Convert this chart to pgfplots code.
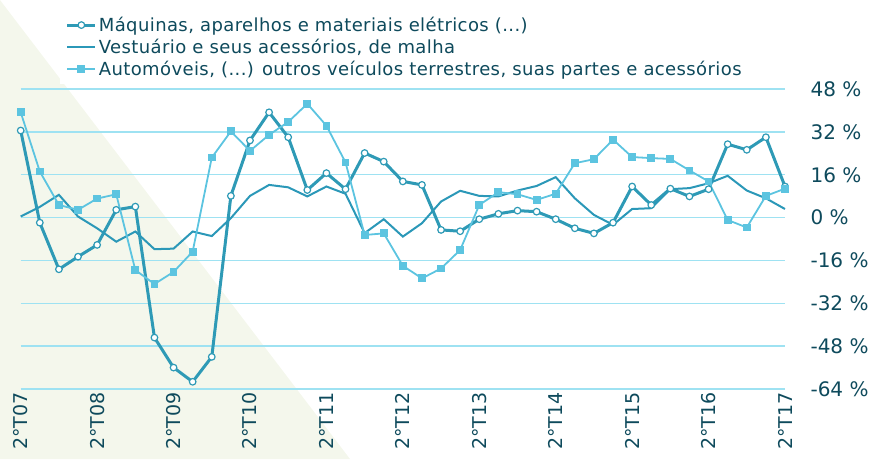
\documentclass[border=0pt]{standalone}
\usepackage{pgfplots}
\pgfplotsset{compat=1.18}
\usepackage{fontspec}
\setmainfont{DejaVu Sans}
\newfontfamily\legfont[LetterSpace=2.2]{DejaVu Sans}
\definecolor{txt}{HTML}{0E4A5C}
\definecolor{cA}{HTML}{2E9AB6}
\definecolor{cB}{HTML}{2B98B8}
\definecolor{cC}{HTML}{5CC4E0}
\definecolor{gridc}{HTML}{9EE2F2}
\definecolor{bgtri}{HTML}{F4F7EC}
\pgfplotsset{legend image code/.code={\draw[mark repeat=2,mark phase=2,#1] plot coordinates {(0pt,0pt) (14pt,0pt) (28pt,0pt)};}}

\pgfplotstableread{
i A B C
0 32.5 0.4 39.3
1 -1.9 4.0 17.2
2 -19.3 8.5 4.7
3 -14.6 0.4 2.9
4 -10.2 -4.0 7.1
5 2.9 -9.0 8.7
6 4.1 -5.2 -19.6
7 -44.8 -11.8 -24.8
8 -56.0 -11.6 -20.3
9 -61.3 -5.2 -12.7
10 -52.0 -6.9 22.4
11 8.1 -0.2 32.2
12 28.8 8.1 24.9
13 39.3 12.2 30.9
14 30.0 11.3 35.7
15 10.3 7.9 42.5
16 16.6 11.6 34.3
17 10.6 8.9 20.6
18 24.1 -5.8 -6.5
19 20.9 -0.6 -5.9
20 13.5 -7.1 -18.0
21 12.2 -2.1 -22.7
22 -4.6 6.0 -19.0
23 -5.1 10.0 -12.1
24 -0.6 8.1 4.7
25 1.4 7.9 9.5
26 2.6 10.1 8.7
27 2.2 11.8 6.6
28 -0.6 15.1 8.9
29 -4.0 7.2 20.3
30 -5.9 1.0 21.8
31 -1.9 -2.7 29.1
32 11.6 3.2 22.6
33 4.7 3.5 22.2
34 10.8 10.6 21.9
35 7.9 11.0 17.6
36 10.6 12.8 13.5
37 27.4 15.6 -0.9
38 25.3 10.1 -3.7
39 30.0 7.2 8.1
40 11.6 3.2 10.8
}\data

\begin{document}
\begin{tikzpicture}[x=1pt,y=1pt]
\useasboundingbox (0,0) rectangle (875,-459);
\fill[bgtri] (0,0) -- (350,-459) -- (0,-459) -- cycle;
\begin{axis}[
  at={(20.7pt,-389pt)}, anchor=south west,
  width=764.3pt, height=300pt, scale only axis,
  xmin=0, xmax=40, ymin=-64, ymax=48,
  ytick={-64,-48,...,48},
  xtick={0,4,...,40},
  xticklabels={2°T07,2°T08,2°T09,2°T10,2°T11,2°T12,2°T13,2°T14,2°T15,2°T16,2°T17},
  ymajorgrids, grid style={gridc, line width=1.4pt},
  axis line style={draw=none},
  major tick length=0pt,
  yticklabel pos=right,
  yticklabel style={font=\fontsize{20}{20}\selectfont, text=txt, anchor=west, xshift=22pt},
  yticklabel={\pgfmathprintnumber[assume math mode=true]{\tick}\ \%},
  xticklabel style={rotate=90, anchor=east, font=\fontsize{19}{19}\selectfont, text=txt},
  legend style={at={(rel axis cs:0.051,1.0)}, anchor=south west, draw=none, fill=white,
    font=\legfont\fontsize{18}{18}\selectfont, text=txt, row sep=2pt, inner xsep=6pt, inner ysep=5pt, yshift=5pt},
  legend cell align=left,
  clip=false,
]
\addplot[cA, line width=3pt, mark=*, mark size=3.3pt,
  mark options={fill=white, draw=cA, line width=1.2pt}]
  table[x=i,y=A]{\data};
\addlegendentry{Máquinas, aparelhos e materiais elétricos (...)}
\addplot[cB, line width=2pt]
  table[x=i,y=B]{\data};
\addlegendentry{Vestuário e seus acessórios, de malha}
\addplot[cC, line width=1.8pt, mark=square*, mark size=3pt,
  mark options={fill=cC, draw=cC}]
  table[x=i,y=C]{\data};
\addlegendentry{Automóveis, (...) outros veículos terrestres, suas partes e acessórios}
\end{axis}
\end{tikzpicture}
\end{document}
